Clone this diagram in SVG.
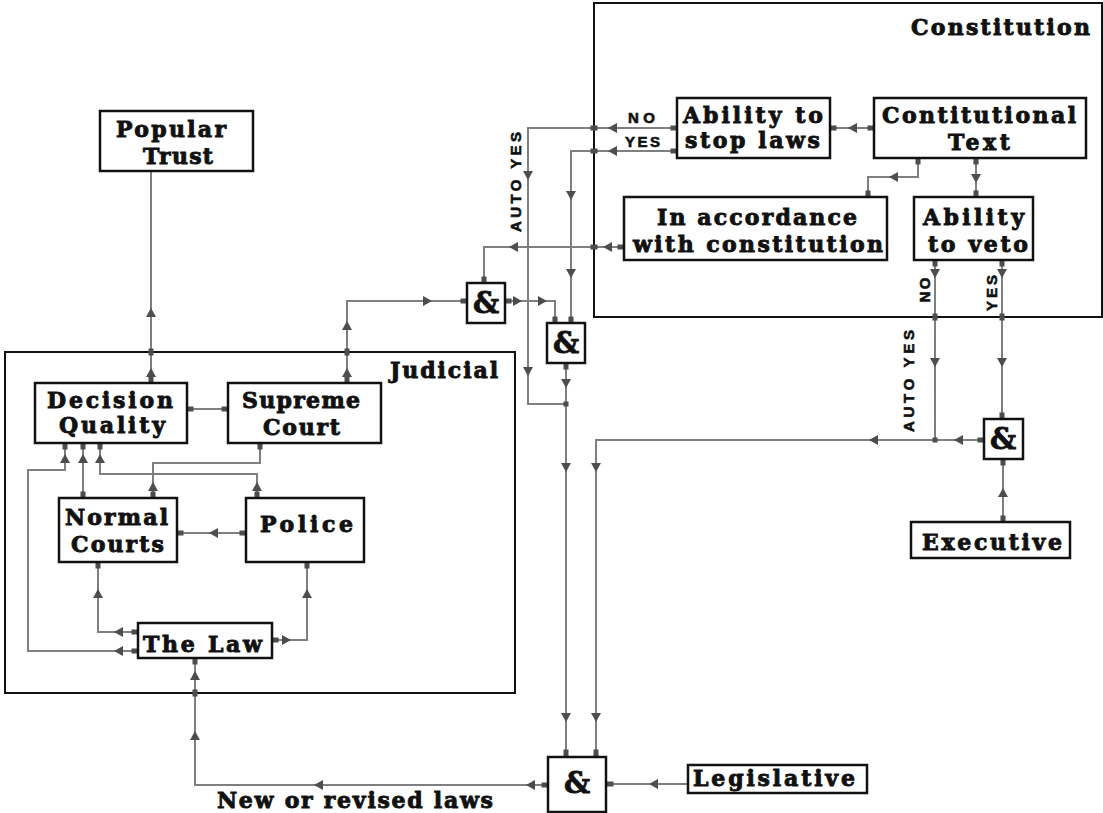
<svg xmlns="http://www.w3.org/2000/svg" width="1103" height="813" viewBox="0 0 1103 813">
<style>
.grp{fill:none;stroke:#111;stroke-width:2}
.box{fill:#fff;stroke:#111;stroke-width:2.5}
.t{font-family:"DejaVu Serif",serif;font-weight:bold;font-size:22px;fill:#111;stroke:#111;stroke-width:0.9}
.amp{font-family:"DejaVu Serif",serif;font-weight:bold;font-size:29px;fill:#111;stroke:#111;stroke-width:0.8;text-anchor:middle}
.lb{font-family:"Liberation Sans",Arial,sans-serif;font-weight:bold;font-size:15px;fill:#111;stroke:#111;stroke-width:0.6}
.c{fill:none;stroke:#7f7f7f;stroke-width:2}
</style>
<defs>
<path id="a" d="M0 0 L-9 -5 L-9 5 Z" fill="#4d4d4d"/>
<rect id="sv" x="-2.5" y="-3.5" width="5" height="7" fill="#4d4d4d"/>
<rect id="sh" x="-3.5" y="-2.5" width="7" height="5" fill="#4d4d4d"/>
<rect id="d" x="-2.5" y="-2.5" width="5" height="5" fill="#4d4d4d"/>
</defs>
<rect width="1103" height="813" fill="#fff"/>

<g id="constitution">
<rect class="grp" x="594" y="3" width="508" height="314"/>
<text class="t" x="911" y="35" textLength="179" lengthAdjust="spacing">Constitution</text>
</g>
<g id="judicial">
<rect class="grp" x="5" y="352" width="510" height="341"/>
<text class="t" x="390" y="378" textLength="108" lengthAdjust="spacing">Judicial</text>
</g>

<g id="connectors">
<path class="c" d="M874,128 H830"/>
<path class="c" d="M677,128 H528 V404 H566"/>
<path class="c" d="M677,151 H571 V323"/>
<path class="c" d="M918,158 V177 H868 V197"/>
<path class="c" d="M976,158 V197"/>
<path class="c" d="M624,247 H484 V283"/>
<path class="c" d="M347,383 V301 H467"/>
<path class="c" d="M505,301 H555 V323"/>
<path class="c" d="M566,363 V756"/>
<path class="c" d="M984,440 H596 V756"/>
<path class="c" d="M935,260 V440"/>
<path class="c" d="M1002,260 V419"/>
<path class="c" d="M1003,522 V459"/>
<path class="c" d="M688,784 H607"/>
<path class="c" d="M548,785 H195 V658"/>
<path class="c" d="M151,383 V171"/>
<path class="c" d="M187,409 H228"/>
<path class="c" d="M246,533 H177"/>
<path class="c" d="M138,632 H98 V562"/>
<path class="c" d="M138,651 H28 V470 H65 V443"/>
<path class="c" d="M83,498 V443"/>
<path class="c" d="M257,498 V474 H100 V443"/>
<path class="c" d="M153,498 V463 H260 V443"/>
<path class="c" d="M272,640 H307 V562"/>

<use href="#a" transform="translate(848,128) rotate(180)"/>
<use href="#a" transform="translate(608,128) rotate(180)"/>
<use href="#a" transform="translate(528,180) rotate(90)"/>
<use href="#a" transform="translate(528,376) rotate(90)"/>
<use href="#a" transform="translate(608,151) rotate(180)"/>
<use href="#a" transform="translate(571,200) rotate(90)"/>
<use href="#a" transform="translate(571,278) rotate(90)"/>
<use href="#a" transform="translate(889,177) rotate(180)"/>
<use href="#a" transform="translate(976,183) rotate(90)"/>
<use href="#a" transform="translate(603,247) rotate(180)"/>
<use href="#a" transform="translate(509,247) rotate(180)"/>
<use href="#a" transform="translate(347,368) rotate(-90)"/>
<use href="#a" transform="translate(347,321) rotate(-90)"/>
<use href="#a" transform="translate(432,301)"/>
<use href="#a" transform="translate(522,301)"/>
<use href="#a" transform="translate(547,301)"/>
<use href="#a" transform="translate(566,388) rotate(90)"/>
<use href="#a" transform="translate(566,472) rotate(90)"/>
<use href="#a" transform="translate(566,722) rotate(90)"/>
<use href="#a" transform="translate(954,440) rotate(180)"/>
<use href="#a" transform="translate(869,440) rotate(180)"/>
<use href="#a" transform="translate(596,472) rotate(90)"/>
<use href="#a" transform="translate(596,722) rotate(90)"/>
<use href="#a" transform="translate(935,278) rotate(90)"/>
<use href="#a" transform="translate(935,367) rotate(90)"/>
<use href="#a" transform="translate(1002,278) rotate(90)"/>
<use href="#a" transform="translate(1002,367) rotate(90)"/>
<use href="#a" transform="translate(1003,488) rotate(-90)"/>
<use href="#a" transform="translate(649,784) rotate(180)"/>
<use href="#a" transform="translate(526,785) rotate(180)"/>
<use href="#a" transform="translate(314,785) rotate(180)"/>
<use href="#a" transform="translate(195,731) rotate(-90)"/>
<use href="#a" transform="translate(195,671) rotate(-90)"/>
<use href="#a" transform="translate(151,368) rotate(-90)"/>
<use href="#a" transform="translate(151,308) rotate(-90)"/>
<use href="#a" transform="translate(209,533) rotate(180)"/>
<use href="#a" transform="translate(114,632) rotate(180)"/>
<use href="#a" transform="translate(98,589) rotate(-90)"/>
<use href="#a" transform="translate(114,651) rotate(180)"/>
<use href="#a" transform="translate(65,454) rotate(-90)"/>
<use href="#a" transform="translate(83,454) rotate(-90)"/>
<use href="#a" transform="translate(257,482) rotate(-90)"/>
<use href="#a" transform="translate(100,454) rotate(-90)"/>
<use href="#a" transform="translate(153,482) rotate(-90)"/>
<use href="#a" transform="translate(291,640)"/>
<use href="#a" transform="translate(307,589) rotate(-90)"/>

<use href="#sh" x="871" y="128"/><use href="#sh" x="833" y="128"/>
<use href="#sh" x="674" y="128"/><use href="#sh" x="594" y="128"/>
<use href="#sh" x="674" y="151"/><use href="#sh" x="594" y="151"/>
<use href="#sv" x="571" y="320"/>
<use href="#sv" x="918" y="161"/><use href="#sv" x="868" y="194"/>
<use href="#sv" x="976" y="161"/><use href="#sv" x="976" y="194"/>
<use href="#sh" x="621" y="247"/><use href="#sh" x="594" y="247"/>
<use href="#sv" x="484" y="280"/>
<use href="#sv" x="347" y="380"/><use href="#sv" x="347" y="352"/>
<use href="#sh" x="464" y="301"/>
<use href="#sh" x="508" y="301"/><use href="#sv" x="555" y="320"/>
<use href="#sv" x="566" y="366"/><use href="#d" x="566" y="404"/>
<use href="#sv" x="566" y="753"/><use href="#sv" x="596" y="753"/>
<use href="#sh" x="981" y="440"/><use href="#d" x="935" y="440"/>
<use href="#sv" x="935" y="263"/><use href="#sv" x="935" y="317"/>
<use href="#sv" x="1002" y="263"/><use href="#sv" x="1002" y="317"/><use href="#sv" x="1002" y="416"/>
<use href="#sv" x="1003" y="462"/><use href="#sv" x="1003" y="519"/>
<use href="#sh" x="691" y="784"/><use href="#sh" x="610" y="784"/>
<use href="#sh" x="545" y="785"/>
<use href="#sv" x="195" y="693"/><use href="#sv" x="195" y="661"/>
<use href="#sv" x="151" y="352"/><use href="#sv" x="151" y="380"/>
<use href="#sh" x="190" y="409"/><use href="#sh" x="225" y="409"/>
<use href="#sh" x="243" y="533"/><use href="#sh" x="180" y="533"/>
<use href="#sh" x="135" y="632"/><use href="#sv" x="98" y="565"/>
<use href="#sh" x="135" y="651"/><use href="#sv" x="65" y="446"/>
<use href="#sv" x="83" y="495"/><use href="#sv" x="83" y="446"/>
<use href="#sv" x="257" y="495"/><use href="#sv" x="100" y="446"/>
<use href="#sv" x="153" y="495"/><use href="#sv" x="260" y="446"/>
<use href="#sh" x="275" y="640"/><use href="#sv" x="307" y="565"/>

<text class="lb" x="628" y="123" textLength="27" lengthAdjust="spacing">NO</text>
<text class="lb" x="625" y="147" textLength="35" lengthAdjust="spacing">YES</text>
<text class="lb" transform="translate(521,182) rotate(-90)" text-anchor="middle" font-size="17" textLength="100" lengthAdjust="spacing">AUTO YES</text>
<text class="lb" transform="translate(914,381) rotate(-90)" text-anchor="middle" font-size="17" textLength="102" lengthAdjust="spacing">AUTO YES</text>
<text class="lb" transform="translate(930,290) rotate(-90)" text-anchor="middle" textLength="25" lengthAdjust="spacing">NO</text>
<text class="lb" transform="translate(997,293) rotate(-90)" text-anchor="middle" textLength="36" lengthAdjust="spacing">YES</text>
<text class="t" x="217" y="808" textLength="276" lengthAdjust="spacing">New or revised laws</text>
</g>

<g id="ability-stop">
<rect class="box" x="677" y="98" width="153" height="60"/>
<text class="t" x="683" y="123" textLength="140" lengthAdjust="spacing">Ability to</text>
<text class="t" x="685" y="148" textLength="135" lengthAdjust="spacing">stop laws</text>
</g>
<g id="const-text">
<rect class="box" x="874" y="98" width="212" height="60"/>
<text class="t" x="882" y="123" textLength="194" lengthAdjust="spacing">Contitutional</text>
<text class="t" x="948" y="150" textLength="62" lengthAdjust="spacing">Text</text>
</g>
<g id="accordance">
<rect class="box" x="624" y="197" width="263" height="63"/>
<text class="t" x="657" y="225" textLength="200" lengthAdjust="spacing">In accordance</text>
<text class="t" x="633" y="252" textLength="250" lengthAdjust="spacing">with constitution</text>
</g>
<g id="veto">
<rect class="box" x="914" y="197" width="119" height="63"/>
<text class="t" x="923" y="225" textLength="101" lengthAdjust="spacing">Ability</text>
<text class="t" x="928" y="252" textLength="100" lengthAdjust="spacing">to veto</text>
</g>
<g id="and1">
<rect class="box" x="467" y="283" width="38" height="40"/>
<text class="amp" x="486" y="313">&amp;</text>
</g>
<g id="and2">
<rect class="box" x="547" y="323" width="38" height="40"/>
<text class="amp" x="566" y="353">&amp;</text>
</g>
<g id="and3">
<rect class="box" x="548" y="757" width="58" height="55"/>
<text class="amp" x="577" y="793">&amp;</text>
</g>
<g id="and4">
<rect class="box" x="984" y="419" width="39" height="40"/>
<text class="amp" x="1003" y="449">&amp;</text>
</g>
<g id="executive">
<rect class="box" x="911" y="522" width="159" height="36"/>
<text class="t" x="922" y="550" textLength="140" lengthAdjust="spacing">Executive</text>
</g>
<g id="legislative">
<rect class="box" x="688" y="765" width="179" height="28"/>
<text class="t" x="693" y="786" textLength="162" lengthAdjust="spacing">Legislative</text>
</g>
<g id="popular-trust">
<rect class="box" x="100" y="111" width="153" height="60"/>
<text class="t" x="116" y="137" textLength="110" lengthAdjust="spacing">Popular</text>
<text class="t" x="143" y="164" textLength="70" lengthAdjust="spacing">Trust</text>
</g>
<g id="decision-quality">
<rect class="box" x="35" y="383" width="152" height="60"/>
<text class="t" x="47" y="408" textLength="126" lengthAdjust="spacing">Decision</text>
<text class="t" x="59" y="433" textLength="106" lengthAdjust="spacing">Quality</text>
</g>
<g id="supreme-court">
<rect class="box" x="228" y="383" width="153" height="60"/>
<text class="t" x="242" y="408" textLength="118" lengthAdjust="spacing">Supreme</text>
<text class="t" x="263" y="435" textLength="77" lengthAdjust="spacing">Court</text>
</g>
<g id="normal-courts">
<rect class="box" x="59" y="498" width="118" height="64"/>
<text class="t" x="65" y="525" textLength="103" lengthAdjust="spacing">Normal</text>
<text class="t" x="71" y="552" textLength="93" lengthAdjust="spacing">Courts</text>
</g>
<g id="police">
<rect class="box" x="246" y="498" width="118" height="64"/>
<text class="t" x="260" y="532" textLength="93" lengthAdjust="spacing">Police</text>
</g>
<g id="the-law">
<rect class="box" x="138" y="623" width="134" height="35"/>
<text class="t" x="143" y="652" textLength="119" lengthAdjust="spacing">The Law</text>
</g>
</svg>
